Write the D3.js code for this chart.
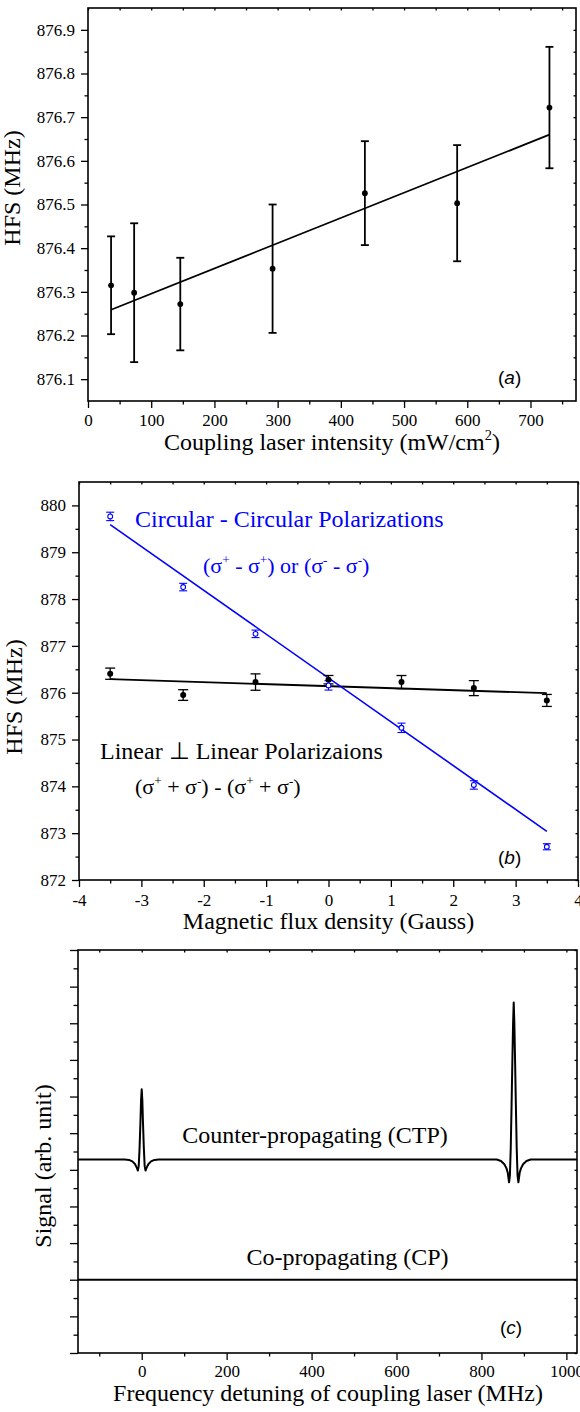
<!DOCTYPE html>
<html>
<head>
<meta charset="utf-8">
<script src="https://cdn.jsdelivr.net/npm/d3@7"></script>
<style>
body { margin: 0; background: #fff; }
text { font-family: "Liberation Serif", "Times New Roman", serif; white-space: pre; }
.tick text { font-size: 17px; fill: #000; }
.tick line { stroke-width: 1.3; }
.tag { font-family: "Liberation Sans", Arial, sans-serif; }
</style>
</head>
<body>
<svg id="fig" width="580" height="1412"></svg>
<script>
// (a) HFS vs coupling laser intensity
var intensity = [36.5, 73, 146, 292, 438, 584, 730];
var hfsA = [876.315, 876.298, 876.272, 876.353, 876.526, 876.503, 876.722];
var errA = [0.112, 0.159, 0.106, 0.147, 0.119, 0.133, 0.139];
var fitAX = [36.5, 730];
var fitAY = [876.259, 876.660];

// (b) HFS vs magnetic flux density
var field = [-3.5, -2.33, -1.17, 0, 1.17, 2.33, 3.5];
var linearHFS = [876.406, 875.95, 876.227, 876.278, 876.227, 876.098, 875.835];
var linearErr = [0.12, 0.114, 0.175, 0.09, 0.14, 0.16, 0.128];
var circularHFS = [879.765, 878.256, 877.257, 876.156, 875.25, 874.03, 872.71];
var circularErr = [0.09, 0.08, 0.08, 0.1, 0.1, 0.09, 0.065];
var fitBX = [-3.5, 3.5];
var fitLinearY = [876.29, 875.99];
var fitCircularY = [879.59, 873.04];

// (c) spectra
var ctpFreq = [-150, -40, -30, -22, -16, -12, -9, -7, -5, -3, -1.5, 0, 1.5, 3, 5, 7, 9, 12, 16, 22, 30, 40,
  836, 846, 854, 859, 862, 865, 867, 869, 871, 873, 874.5, 876, 877.5, 879, 881, 883, 885, 887, 890, 893, 898, 906, 916, 1025];
var ctpSignal = [3.28, 3.28, 3.27, 3.23, 3.16, 3.07, 2.98, 3.1, 3.6, 4.3, 4.9, 5.2, 4.9, 4.3, 3.6, 3.1, 2.98, 3.07, 3.16, 3.23, 3.27, 3.28,
  3.28, 3.24, 3.15, 3.04, 2.92, 2.66, 2.85, 3.6, 4.8, 6.1, 7.0, 7.57, 7.0, 6.1, 4.8, 3.6, 2.85, 2.66, 2.92, 3.04, 3.15, 3.24, 3.28, 3.28];
var cpFreq = [-150, 1025];
var cpSignal = [0, 0];

// tick values
var aXMajor = [0, 100, 200, 300, 400, 500, 600, 700];
var aXMinor = [50, 150, 250, 350, 450, 550, 650, 750];
var aYMajor = [876.1, 876.2, 876.3, 876.4, 876.5, 876.6, 876.7, 876.8, 876.9];
var aYMinor = [876.15, 876.25, 876.35, 876.45, 876.55, 876.65, 876.75, 876.85];
var bXMajor = [-4, -3, -2, -1, 0, 1, 2, 3, 4];
var bXMinor = [-3.5, -2.5, -1.5, -0.5, 0.5, 1.5, 2.5, 3.5];
var bYMajor = [872, 873, 874, 875, 876, 877, 878, 879, 880];
var bYMinor = [872.5, 873.5, 874.5, 875.5, 876.5, 877.5, 878.5, 879.5];
var cXMajor = [0, 200, 400, 600, 800, 1000];
var cXMinor = [-100, 100, 300, 500, 700, 900];
var cYMajor = [-2, -1, 0, 1, 2, 3, 4, 5, 6, 7, 8, 9];
var cYMinor = [-1.5, -0.5, 0.5, 1.5, 2.5, 3.5, 4.5, 5.5, 6.5, 7.5, 8.5];

var blue = '#0000ff';
var serif = '"Liberation Serif", "Times New Roman", serif';
var svg = d3.select('#fig');

function plain(d) { return String(d); }

function panel(o) {
  var g = svg.append('g');
  var x = d3.scaleLinear().domain(o.xDom).range([o.left, o.right]);
  var y = d3.scaleLinear().domain(o.yDom).range([o.bottom, o.top]);

  function put(axis, tx, ty) {
    var a = g.append('g').attr('transform', 'translate(' + tx + ',' + ty + ')').call(axis);
    a.select('.domain').remove();
    a.attr('font-family', serif).attr('font-size', 17);
    a.selectAll('text').attr('font-family', serif).attr('font-size', 17);
    return a;
  }
  put(d3.axisBottom(x).tickValues(o.xMajor).tickSize(7).tickPadding(o.xPad || 7).tickFormat(o.xFmt || plain), 0, o.bottom);
  put(d3.axisBottom(x).tickValues(o.xMinor).tickSize(3.5).tickFormat(''), 0, o.bottom);
  put(d3.axisLeft(y).tickValues(o.yMajor).tickSize(o.ySize || 7).tickPadding(6)
    .tickFormat(o.yFmt ? o.yFmt : ''), o.left, 0);
  put(d3.axisLeft(y).tickValues(o.yMinor).tickSize(o.ySize ? 4.5 : 3.5).tickFormat(''), o.left, 0);
  put(d3.axisTop(x).tickValues(o.xMajor.concat(o.xMinor)).tickSize(-2.5).tickFormat(''), 0, o.top);
  put(d3.axisRight(y).tickValues(o.yMajor.concat(o.yMinor)).tickSize(-2.5).tickFormat(''), o.right, 0);

  g.append('rect')
    .attr('x', o.left).attr('y', o.top)
    .attr('width', o.right - o.left).attr('height', o.bottom - o.top)
    .attr('fill', 'none').attr('stroke', '#000').attr('stroke-width', 1.6);

  return { g: g, x: x, y: y };
}

// text with superscripts: parts are strings or {sup: '...'}
function rich(g, x, y, parts, size, anchor, color) {
  var t = g.append('text').attr('x', x).attr('y', y)
    .attr('font-size', size).attr('text-anchor', anchor || 'start')
    .attr('fill', color || '#000');
  var raised = 0;
  parts.forEach(function(p) {
    var s = t.append('tspan');
    if (typeof p === 'string') {
      s.text(p).attr('dy', raised ? raised : null);
      raised = 0;
    } else {
      var up = size * 0.42;
      s.text(p.sup).attr('font-size', size * 0.6).attr('dy', -up - raised);
      raised = up;
    }
  });
  return t;
}

function tag(g, x, y, letter) {
  var t = g.append('text').attr('class', 'tag').attr('x', x).attr('y', y).attr('font-size', 19);
  t.append('tspan').text('(');
  t.append('tspan').attr('font-style', 'italic').text(letter);
  t.append('tspan').text(')');
}

function yTitle(g, x, y, label) {
  g.append('text').attr('transform', 'translate(' + x + ',' + y + ') rotate(-90)')
    .attr('text-anchor', 'middle').attr('font-size', 24).text(label);
}

function errorBars(p, xs, ys, es, color, width, cap) {
  var g = p.g.append('g').attr('stroke', color).attr('stroke-width', width);
  xs.forEach(function(xv, i) {
    var cx = p.x(xv), y1 = p.y(ys[i] + es[i]), y2 = p.y(ys[i] - es[i]);
    g.append('line').attr('x1', cx).attr('x2', cx).attr('y1', y1).attr('y2', y2);
    g.append('line').attr('x1', cx - cap).attr('x2', cx + cap).attr('y1', y1).attr('y2', y1);
    g.append('line').attr('x1', cx - cap).attr('x2', cx + cap).attr('y1', y2).attr('y2', y2);
  });
}

function fit(p, xs, ys, color, width) {
  p.g.append('path')
    .datum(d3.zip(xs, ys))
    .attr('d', d3.line().x(function(d) { return p.x(d[0]); }).y(function(d) { return p.y(d[1]); }))
    .attr('fill', 'none').attr('stroke', color).attr('stroke-width', width)
    .attr('stroke-linejoin', 'round');
}

// ---------- (a) ----------
var pa = panel({
  left: 88, right: 576, top: 8, bottom: 401,
  xDom: [0, 772], yDom: [876.05, 876.95],
  xMajor: aXMajor, xMinor: aXMinor, yMajor: aYMajor, yMinor: aYMinor,
  yFmt: d3.format('.1f'), xPad: 6
});
fit(pa, fitAX, fitAY, '#000', 1.8);
errorBars(pa, intensity, hfsA, errA, '#000', 1.8, 4);
pa.g.selectAll('circle.a').data(intensity).enter().append('circle')
  .attr('cx', function(d) { return pa.x(d); })
  .attr('cy', function(d, i) { return pa.y(hfsA[i]); })
  .attr('r', 2.9).attr('fill', '#000');
rich(pa.g, 332, 450, ['Coupling laser intensity (mW/cm', { sup: '2' }, ')'], 24, 'middle');
yTitle(pa.g, 20, 188, 'HFS (MHz)');
tag(pa.g, 498, 384, 'a');

// ---------- (b) ----------
var pb = panel({
  left: 79, right: 578, top: 482, bottom: 880,
  xDom: [-4, 4], yDom: [872, 880.5],
  xMajor: bXMajor, xMinor: bXMinor, yMajor: bYMajor, yMinor: bYMinor,
  yFmt: plain
});
fit(pb, fitBX, fitLinearY, '#000', 1.8);
fit(pb, fitBX, fitCircularY, blue, 1.6);
errorBars(pb, field, linearHFS, linearErr, '#000', 1.3, 5);
errorBars(pb, field, circularHFS, circularErr, blue, 1.1, 4);
pb.g.selectAll('circle.lin').data(field).enter().append('circle')
  .attr('cx', function(d) { return pb.x(d); })
  .attr('cy', function(d, i) { return pb.y(linearHFS[i]); })
  .attr('r', 3).attr('fill', '#000');
pb.g.selectAll('circle.circ').data(field).enter().append('circle')
  .attr('cx', function(d) { return pb.x(d); })
  .attr('cy', function(d, i) { return pb.y(circularHFS[i]); })
  .attr('r', 2.4).attr('fill', '#fff').attr('stroke', blue).attr('stroke-width', 1.1);
rich(pb.g, 135, 527, ['Circular - Circular Polarizations'], 24, 'start', blue);
rich(pb.g, 203, 573, ['(σ', { sup: '+' }, ' - σ', { sup: '+' }, ') or (σ', { sup: '-' }, ' - σ', { sup: '-' }, ')'], 22, 'start', blue);
rich(pb.g, 100, 759, ['Linear \u22a5 Linear Polarizaions'], 24, 'start', '#000');
rich(pb.g, 135, 794, ['(σ', { sup: '+' }, ' + σ', { sup: '-' }, ') - (σ', { sup: '+' }, ' + σ', { sup: '-' }, ')'], 22, 'start', '#000');
rich(pb.g, 328.5, 929, ['Magnetic flux density (Gauss)'], 24, 'middle');
yTitle(pb.g, 22, 697, 'HFS (MHz)');
tag(pb.g, 498, 864, 'b');

// ---------- (c) ----------
var pc = panel({
  left: 78, right: 577, top: 950, bottom: 1353,
  xDom: [-150, 1025], yDom: [-2, 9],
  xMajor: cXMajor, xMinor: cXMinor, yMajor: cYMajor, yMinor: cYMinor,
  ySize: 8, xPad: 5
});
fit(pc, cpFreq, cpSignal, '#000', 2.2);
fit(pc, ctpFreq, ctpSignal, '#000', 2);
rich(pc.g, 315, 1143, ['Counter-propagating (CTP)'], 24, 'middle');
rich(pc.g, 347.5, 1265, ['Co-propagating (CP)'], 24, 'middle');
rich(pc.g, 328, 1401, ['Frequency detuning of coupling laser (MHz)'], 24, 'middle');
yTitle(pc.g, 51, 1166, 'Signal (arb. unit)');
tag(pc.g, 500, 1334, 'c');
</script>
</body>
</html>
